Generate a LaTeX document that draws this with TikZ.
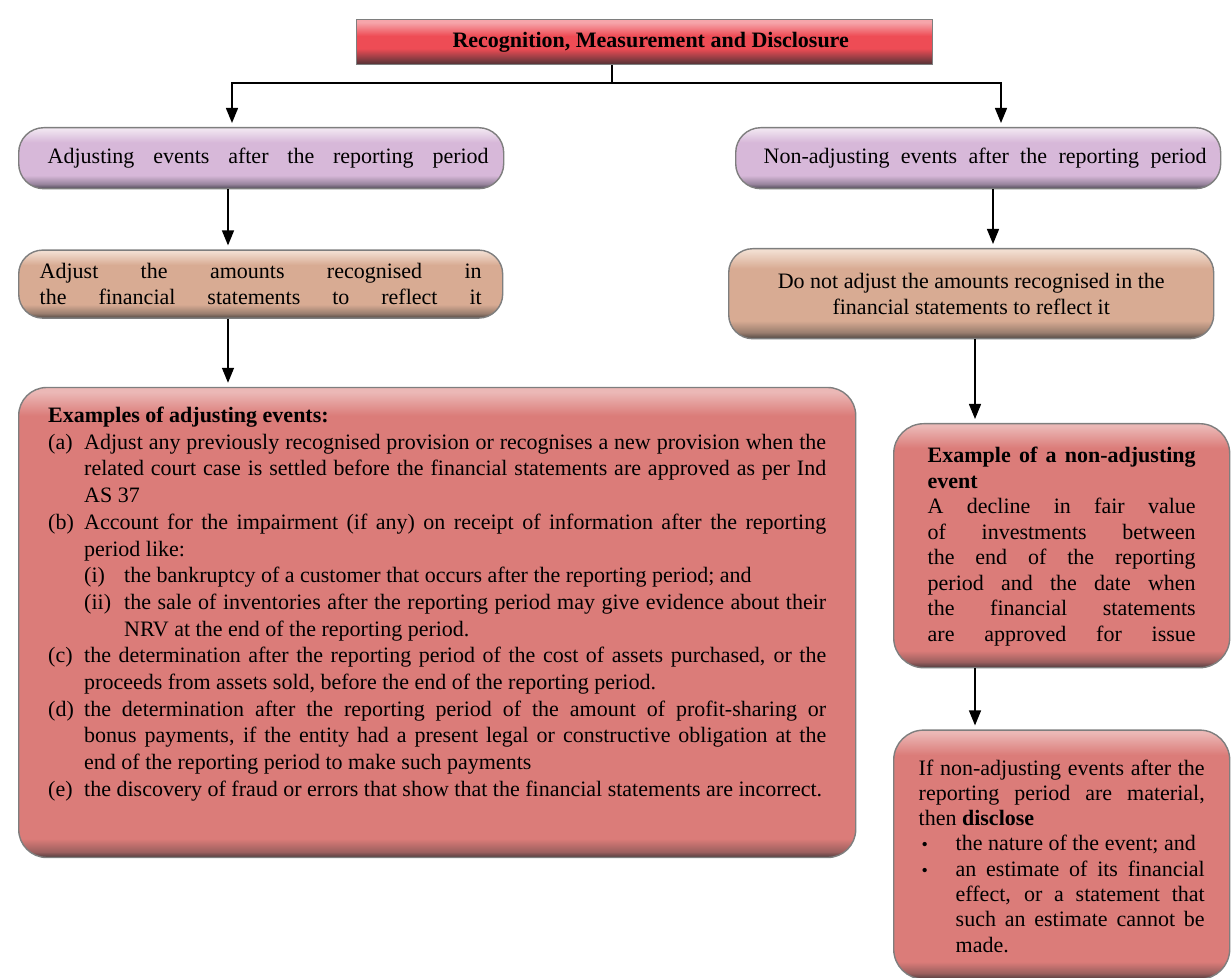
\documentclass[tikz,border=0pt]{standalone}
\usepackage{fontspec}
\setmainfont{Liberation Serif}
\usetikzlibrary{arrows.meta,positioning}
\definecolor{Rim}{HTML}{7E7E7E}
\definecolor{TitleTop}{HTML}{F6A5AA}
\definecolor{TitleMid}{HTML}{EE4C55}
\definecolor{TitleBot}{HTML}{4E3236}
\definecolor{PurpleTop}{HTML}{F1E6F1}
\definecolor{PurpleMid}{HTML}{D7B8D9}
\definecolor{PurpleBot}{HTML}{4E4856}
\definecolor{OrangeTop}{HTML}{F2DED1}
\definecolor{OrangeMid}{HTML}{D8AB93}
\definecolor{OrangeBot}{HTML}{4E4642}
\definecolor{RoseTop}{HTML}{EBB8B6}
\definecolor{RoseMid}{HTML}{DB7C79}
\definecolor{RoseBot}{HTML}{4E3C3E}
\colorlet{TitleDusk}{TitleMid!45!TitleBot}
\colorlet{PurpleDusk}{PurpleMid!55!PurpleBot}
\colorlet{OrangeDusk}{OrangeMid!55!OrangeBot}
\colorlet{RoseDusk}{RoseMid!55!RoseBot}
\pgfdeclareverticalshading{titleglass}{100bp}{color(0bp)=(TitleBot); color(25bp)=(TitleBot); color(33bp)=(TitleDusk); color(43bp)=(TitleMid); color(57bp)=(TitleMid); color(72bp)=(TitleTop); color(100bp)=(TitleTop)}
\pgfdeclareverticalshading{purpleglass}{100bp}{color(0bp)=(PurpleBot); color(25bp)=(PurpleBot); color(29bp)=(PurpleDusk); color(36bp)=(PurpleMid); color(63bp)=(PurpleMid); color(74bp)=(PurpleTop); color(100bp)=(PurpleTop)}
\pgfdeclareverticalshading{orangeglass}{100bp}{color(0bp)=(OrangeBot); color(25bp)=(OrangeBot); color(28.5bp)=(OrangeDusk); color(35bp)=(OrangeMid); color(64bp)=(OrangeMid); color(74bp)=(OrangeTop); color(100bp)=(OrangeTop)}
\pgfdeclareverticalshading{roseglass}{100bp}{color(0bp)=(RoseBot); color(25bp)=(RoseBot); color(25.6bp)=(RoseDusk); color(27bp)=(RoseMid); color(72bp)=(RoseMid); color(74.5bp)=(RoseTop); color(100bp)=(RoseTop)}
\pgfdeclareverticalshading{roseglasssmall}{100bp}{color(0bp)=(RoseBot); color(25bp)=(RoseBot); color(26.2bp)=(RoseDusk); color(28.5bp)=(RoseMid); color(70bp)=(RoseMid); color(74.5bp)=(RoseTop); color(100bp)=(RoseTop)}
\newcommand{\exitem}[2]{\par\hangindent=18pt\hangafter=1\noindent\strut\makebox[18pt][l]{#1}#2}
\newcommand{\exsubitem}[2]{\par\hangindent=38pt\hangafter=1\noindent\strut\hspace*{18pt}\makebox[20pt][l]{#1}#2}
\newcommand{\discitem}[1]{\par\hangindent=18.5pt\hangafter=1\noindent\strut\makebox[18.5pt][l]{\hspace*{1.5pt}\small\textbullet}#1}
\tikzset{
  glassbox/.style={draw=Rim,line width=0.7pt,shade,inner sep=0pt,anchor=north west,font=\fontsize{11}{13}\selectfont},
  titlebox/.style={glassbox,shading=titleglass,font=\fontsize{11}{13}\selectfont\bfseries},
  eventbox/.style={glassbox,shading=purpleglass,rounded corners=12.5pt},
  rulebox/.style={glassbox,shading=orangeglass,rounded corners=12pt},
  examplebox/.style={glassbox,shading=roseglass,rounded corners=14pt},
  notebox/.style={glassbox,shading=roseglasssmall,rounded corners=15pt},
  link/.style={draw=black,line width=0.7pt},
  arr/.style={link,-{Triangle[length=7.5pt,width=6pt]},shorten >=2pt}
}
\begin{document}
\begin{tikzpicture}[x=0.5pt,y=-0.5pt]
  \useasboundingbox (0,0) rectangle (1231,978);
  \node[titlebox,minimum width=288pt,minimum height=22.5pt] (title) at (356,19)
    {\hspace{6pt}Recognition, Measurement and Disclosure};

  \node[eventbox,minimum width=242.5pt,minimum height=30.5pt] (adj) at (18,127)
    {\hspace{7pt}\makebox[220.5pt][s]{Adjusting events after the reporting period}};
  \node[rulebox,minimum width=242pt,minimum height=34pt,align=center,
    below=30pt of adj.south west,anchor=north west] (adjrule)
    {\makebox[221pt][s]{Adjust the amounts recognised in}\\
     \makebox[221pt][s]{the financial statements to reflect it}};
  \node[examplebox,minimum width=418.5pt,minimum height=235pt,
    below=34pt of adjrule.south west,anchor=north west] (adjex)
    {\parbox[c][235pt][t]{389pt}{\fontsize{11}{13.35}\selectfont\vspace*{8.2pt}%
      \noindent\strut\textbf{Examples of adjusting events:}
      \exitem{(a)}{Adjust any previously recognised provision or recognises a new provision when the\linebreak
        related court case is settled before the financial statements are approved as per Ind\linebreak AS 37}
      \exitem{(b)}{Account for the impairment (if any) on receipt of information after the reporting\linebreak
        period like:}
      \exsubitem{(i)}{the bankruptcy of a customer that occurs after the reporting period; and}
      \exsubitem{(ii)}{the sale of inventories after the reporting period may give evidence about their\linebreak
        NRV at the end of the reporting period.}
      \exitem{(c)}{the determination after the reporting period of the cost of assets purchased, or the\linebreak
        proceeds from assets sold, before the end of the reporting period.}
      \exitem{(d)}{the determination after the reporting period of the amount of profit-sharing or\linebreak
        bonus payments, if the entity had a present legal or constructive obligation at the\linebreak
        end of the reporting period to make such payments}
      \exitem{(e)}{the discovery of fraud or errors that show that the financial statements are incorrect.}\par}};

  \node[eventbox,minimum width=242.5pt,minimum height=30.5pt] (nonadj) at (735,127)
    {\hspace{7pt}\makebox[221.5pt][s]{Non-adjusting events after the reporting period}};
  \node[rulebox,minimum width=242.5pt,minimum height=45pt,align=center] (nonrule) at (728,248)
    {Do not adjust the amounts recognised in the\\financial statements to reflect it};
  \node[notebox,minimum width=168pt,minimum height=122pt] (nonex) at (893,423)
    {\parbox[c][122pt][t]{134pt}{\fontsize{11}{12.75}\selectfont\vspace*{10.6pt}%
      \noindent\strut\textbf{Example of a non-adjusting\linebreak event}\par
      {\parfillskip=0pt\noindent A decline in fair value\linebreak of investments between\linebreak
        the end of the reporting\linebreak period and the date when\linebreak
        the financial statements\linebreak are approved for issue\par}}};
  \node[notebox,minimum width=168pt,minimum height=124.5pt,
    below=30.5pt of nonex.south west,anchor=north west] (disclose)
    {\parbox[c][124.5pt][t]{143pt}{\fontsize{11}{12.65}\selectfont\vspace*{13.6pt}%
      \noindent\strut If non-adjusting events after the\linebreak reporting period are material,\linebreak
      then \textbf{disclose}
      \discitem{the nature of the event; and}
      \discitem{an estimate of its financial\linebreak effect, or a statement that\linebreak
        such an estimate cannot be\linebreak made.}\par}};

  \coordinate (fork) at (612,83);
  \coordinate (colA) at (232,0);
  \coordinate (colB) at (1001,0);
  \coordinate (colL) at (228,0);
  \coordinate (colR) at (993,0);
  \coordinate (colN) at (975,0);
  \draw[link] (title.south -| fork) -- (fork);
  \draw[arr] (fork) -| (adj.north -| colA);
  \draw[arr] (fork) -| (nonadj.north -| colB);
  \draw[arr] (adj.south -| colL) -- (adjrule.north -| colL);
  \draw[arr] (adjrule.south -| colL) -- (adjex.north -| colL);
  \draw[arr] (nonadj.south -| colR) -- (nonrule.north -| colR);
  \draw[arr] (nonrule.south -| colN) -- (nonex.north -| colN);
  \draw[arr] (nonex.south -| colN) -- (disclose.north -| colN);
\end{tikzpicture}
\end{document}
